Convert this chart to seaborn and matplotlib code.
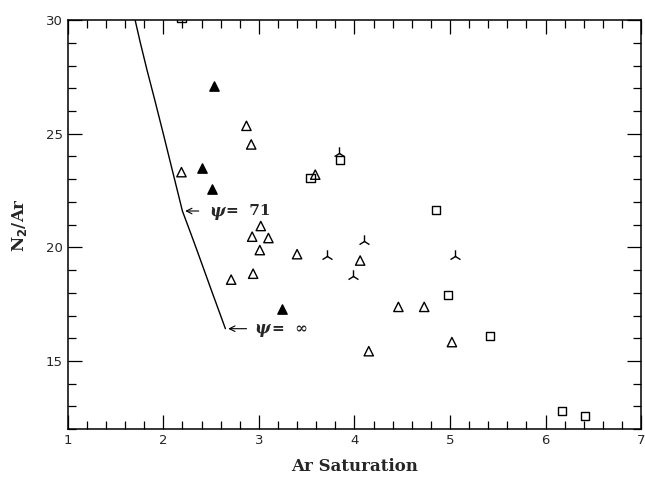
import numpy as np
import pandas as pd
import matplotlib
matplotlib.use("Agg")
import matplotlib.pyplot as plt
import seaborn as sns
from matplotlib.ticker import MultipleLocator

# Open triangles
open_tri_x = [2.87, 2.92, 2.19, 3.02, 2.93, 3.10, 3.59, 3.01, 3.40, 2.71, 2.94, 4.06, 4.46, 4.73, 5.02, 4.15]
open_tri_y = [25.35, 24.53, 23.31, 20.94, 20.47, 20.41, 23.20, 19.88, 19.70, 18.58, 18.84, 19.42, 17.38, 17.38, 15.83, 15.43]

# Filled triangles
fill_tri_x = [2.53, 2.40, 2.51, 3.24]
fill_tri_y = [27.09, 23.50, 22.57, 17.30]

# Open squares
square_x = [2.19, 3.54, 3.85, 4.85, 4.98, 5.42, 6.17, 6.41]
square_y = [30.1, 23.04, 23.86, 21.65, 17.89, 16.11, 12.79, 12.58]

# Tripod markers
tri_x = [3.84, 3.71, 4.10, 5.05, 3.99]
tri_y = [24.16, 19.62, 20.28, 19.62, 18.73]

# psi curve
curve_x = [1.70, 1.76, 1.83, 1.91, 2.00, 2.10, 2.20, 2.28, 2.35, 2.50, 2.65]
curve_y = [30.1, 29.0, 27.8, 26.5, 25.0, 23.3, 21.6, 20.7, 19.9, 18.15, 16.42]

sns.set_style("ticks")
fig = plt.figure(figsize=(6.45, 4.8), dpi=100)
ax = fig.add_axes([0.105, 0.106, 0.889, 0.852])

sns.lineplot(x=curve_x, y=curve_y, sort=False, color="black", lw=1.0, ax=ax)

sns.scatterplot(x=open_tri_x, y=open_tri_y, marker="^", s=45, facecolor="none",
                edgecolor="black", linewidth=1.0, ax=ax)
sns.scatterplot(x=fill_tri_x, y=fill_tri_y, marker="^", s=45, color="black",
                edgecolor="black", linewidth=1.0, ax=ax)
sns.scatterplot(x=square_x, y=square_y, marker="s", s=35, facecolor="none",
                edgecolor="black", linewidth=1.0, ax=ax)
sns.scatterplot(x=tri_x, y=tri_y, marker="2", s=80, color="black",
                linewidth=1.0, ax=ax)

# annotations
ax.annotate("", xy=(2.20, 21.6), xytext=(2.40, 21.6),
            arrowprops=dict(arrowstyle="->", color="black", lw=0.8))
ax.text(2.48, 21.6, "ψ", fontsize=12, fontweight="bold", style="italic",
        family="DejaVu Serif", va="center")
ax.text(2.66, 21.6, "=  71", fontsize=11, fontweight="bold",
        family="DejaVu Serif", va="center")
ax.annotate("", xy=(2.65, 16.42), xytext=(2.90, 16.42),
            arrowprops=dict(arrowstyle="->", color="black", lw=0.8))
ax.text(2.95, 16.42, "ψ", fontsize=12, fontweight="bold", style="italic",
        family="DejaVu Serif", va="center")
ax.text(3.14, 16.42, "=  ∞", fontsize=11, fontweight="bold",
        family="DejaVu Serif", va="center")

ax.set_xlim(1, 7)
ax.set_ylim(12, 30)
ax.xaxis.set_major_locator(MultipleLocator(1))
ax.xaxis.set_minor_locator(MultipleLocator(0.2))
ax.yaxis.set_major_locator(MultipleLocator(5))
ax.yaxis.set_minor_locator(MultipleLocator(1))
ax.tick_params(which="both", direction="in", top=True, right=True,
               labelsize=9.5, color="black")
ax.tick_params(which="major", length=10, width=0.9)
ax.tick_params(which="minor", length=6, width=0.9)
for s in ax.spines.values():
    s.set_linewidth(1.1)
    s.set_color("black")

ax.set_xlabel("Ar Saturation", fontsize=12, fontweight="bold",
              family="DejaVu Serif", labelpad=8)
ax.set_ylabel("N$_\\mathbf{2}$/Ar", fontsize=12, fontweight="bold",
              family="DejaVu Serif", labelpad=12)

fig.savefig("out.png", dpi=100)
